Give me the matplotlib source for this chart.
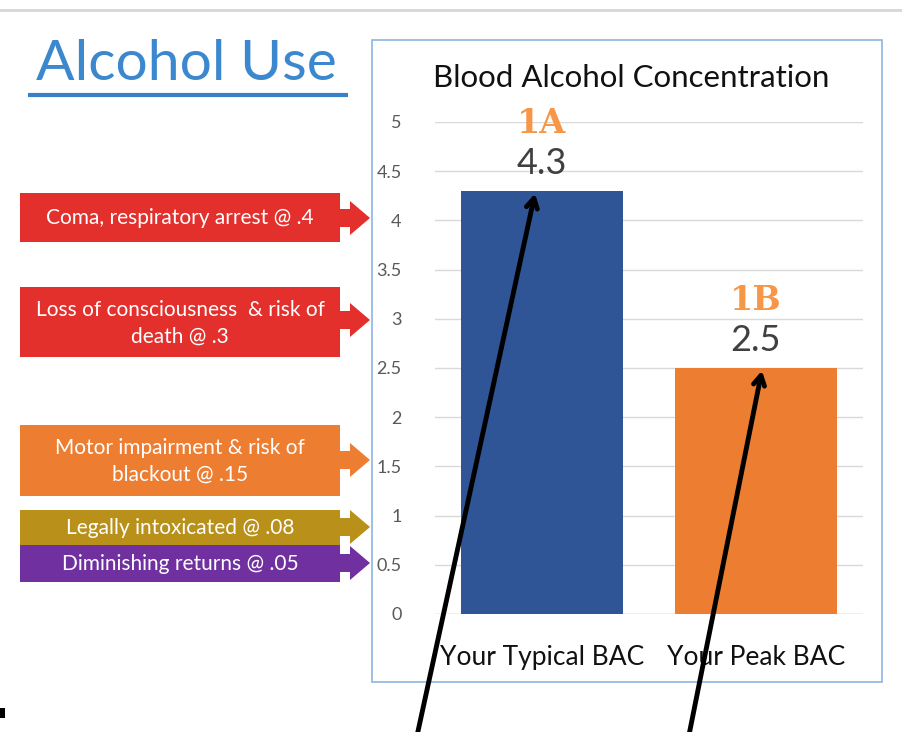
import matplotlib
matplotlib.use("Agg")
import matplotlib.pyplot as plt
from matplotlib.patches import Rectangle, Polygon

plt.rcParams['font.family'] = ['Lato', 'DejaVu Sans']

# ---- data ----
categories = ["Your Typical BAC", "Your Peak BAC"]
values = [4.3, 2.5]
bar_tags = ["1A", "1B"]
bar_colors = ["#2F5597", "#ED7D31"]
y_ticks = [0, 0.5, 1, 1.5, 2, 2.5, 3, 3.5, 4, 4.5, 5]
y_tick_labels = ["0", "0.5", "1", "1.5", "2", "2.5", "3", "3.5", "4", "4.5", "5"]

level_texts = ["Coma, respiratory arrest @ .4",
               "Loss of consciousness  & risk of\ndeath @ .3",
               "Motor impairment & risk of\nblackout @ .15",
               "Legally intoxicated @ .08",
               "Diminishing returns @ .05"]
level_colors = ["#E3302C", "#E3302C", "#ED7D31", "#B8901A", "#7030A0"]
# box top / bottom / arrow tip (pixel layout)
level_boxes = [(193, 242, 218), (287, 357, 320), (425, 496, 460), (510, 545, 527), (545, 582, 563)]

W, H = 903, 732
fig = plt.figure(figsize=(W / 100, H / 100), dpi=100)
fig.patch.set_facecolor("white")

# bar chart axes
x0, x1, ytop, ybot = 435, 863, 122, 614
ax = fig.add_axes([x0 / W, (H - ybot) / H, (x1 - x0) / W, (ybot - ytop) / H])
xs = list(range(len(categories)))
ax.bar(xs, values, width=0.76, color=bar_colors, zorder=3)
ax.set_xlim(-0.5, 1.5)
ax.set_ylim(0, 5)
ax.set_yticks(y_ticks)
ax.set_yticklabels(y_tick_labels, fontsize=13, color="#595959")
ax.set_xticks(xs)
ax.set_xticklabels(categories, fontsize=19, color="#111111")
ax.tick_params(length=0, axis="y", pad=24)
ax.tick_params(length=0, axis="x", pad=22)
ax.grid(axis="y", color="#D9D9D9", lw=1, zorder=0)
for s in ax.spines.values():
    s.set_visible(False)
ax.axhline(0, color="#D0D0D0", lw=1, zorder=2)
ax.set_facecolor("none")

for x, v, tag in zip(xs, values, bar_tags):
    ax.text(x, v + 0.11, f"{v}", ha="center", va="bottom", fontsize=26, color="#404040")
    ax.text(x, v + 0.52, tag, ha="center", va="bottom", fontsize=24, color="#F79646",
            fontweight="bold", family="DejaVu Serif")

# overlay in pixel coordinates
ov = fig.add_axes([0, 0, 1, 1])
ov.set_xlim(0, W)
ov.set_ylim(H, 0)
ov.axis("off")
ov.patch.set_alpha(0)

# top gray rule
ov.plot([0, W], [10, 10], color="#D6D6D6", lw=2)
# title
ov.text(36, 80, "Alcohol Use", fontsize=41, color="#3C88CE", ha="left", va="baseline")
ov.plot([28, 348], [95, 95], color="#3A80C8", lw=3, solid_capstyle="butt")
# chart border
ov.add_patch(Rectangle((372, 40), 510, 642, fill=False, ec="#8DB4E2", lw=1.2))
ov.text(631, 87, "Blood Alcohol Concentration", fontsize=22.5, color="#111111",
        ha="center", va="baseline")

# level labels with arrows
for txt, col, (top, bot, tip) in zip(level_texts, level_colors, level_boxes):
    ov.add_patch(Rectangle((20, top), 320, bot - top, color=col, lw=0))
    h1, h2 = 9, 17
    ov.add_patch(Polygon([(338, tip - h1), (350, tip - h1), (350, tip - h2), (370, tip),
                          (350, tip + h2), (350, tip + h1), (338, tip + h1)],
                         closed=True, color=col, lw=0))
    ov.text(180, (top + bot) / 2 + 1, txt, color="white", fontsize=15, ha="center",
            va="center", linespacing=1.4)

# black arrows pointing at the bars
tails = [(415, 745), (687, 745)]
heads = [(-0.03, values[0]), (1.03, values[1])]
for (tx, ty), hd in zip(tails, heads):
    ov.annotate("", xy=hd, xycoords=ax.transData, xytext=(tx, ty), textcoords="data",
                arrowprops=dict(arrowstyle="->,head_length=0.7,head_width=0.4",
                                color="black", lw=3.5, shrinkA=0, shrinkB=2),
                annotation_clip=False)

# small mark bottom-left
ov.add_patch(Rectangle((0, 708), 5, 10, color="black", lw=0))

fig.savefig("out.png", dpi=100)
